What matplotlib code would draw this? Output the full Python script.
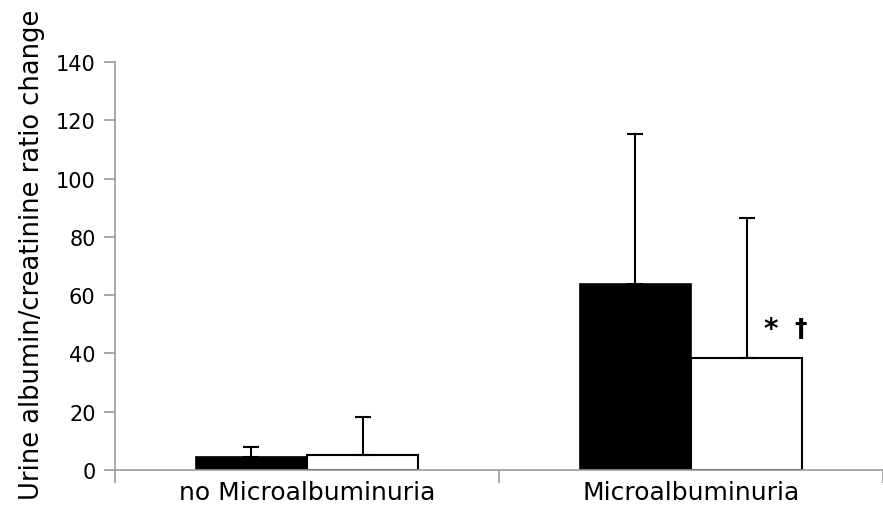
import numpy as np
import matplotlib.pyplot as plt

# data
categories = ["no Microalbuminuria", "Microalbuminuria"]
before_vals = [4.6, 63.8]
before_err = [3.2, 51.5]
after_vals = [5.1, 38.3]
after_err = [13.2, 48.1]
yticks = [0, 20, 40, 60, 80, 100, 120, 140]

W, H = 883, 510
fig = plt.figure(figsize=(W / 100, H / 100), dpi=100)
ax = fig.add_axes([115 / W, 39 / H, (W - 115) / W, 408 / H])

x = np.arange(len(categories))
bw = 0.29
err_kw = dict(ecolor='black', elinewidth=1.5, capsize=6, capthick=1.5)
ax.bar(x - bw / 2, before_vals, bw, color='black', edgecolor='black',
       linewidth=1.2, yerr=[np.zeros(2), before_err], error_kw=err_kw)
ax.bar(x + bw / 2, after_vals, bw, color='white', edgecolor='black',
       linewidth=1.5, yerr=[np.zeros(2), after_err], error_kw=err_kw)

ax.text(1 + bw / 2 + 0.062, after_vals[1] + 10, '*', fontsize=20,
        fontweight='bold', ha='center', va='center')
ax.text(1 + bw / 2 + 0.14, after_vals[1] + 10.5, '\u2020', fontsize=18,
        fontweight='bold', ha='center', va='center')

ax.set_xlim(-0.5, 1.5 - 4 / 386)
ax.set_ylim(0, 140)
ax.set_yticks(yticks)
ax.set_xticks(x)
ax.set_xticklabels(categories, fontsize=18)
ax.set_xticks([-0.5, 0.5, 1.5], minor=True)
ax.tick_params(axis='x', which='major', length=0, pad=7)
ax.tick_params(axis='x', which='minor', length=9, width=1.2, color='#999999',
               direction='out')
ax.tick_params(axis='y', length=8, width=1.2, color='#999999', labelsize=15,
               pad=6)

for side in ['top', 'right']:
    ax.spines[side].set_visible(False)
for side in ['left', 'bottom']:
    ax.spines[side].set_color('#999999')
    ax.spines[side].set_linewidth(1.2)

fig.text(32 / W, 0.5, 'Urine albumin/creatinine ratio change', fontsize=18.5,
         rotation=90, ha='center', va='center')

fig.savefig('out.png', dpi=100)
